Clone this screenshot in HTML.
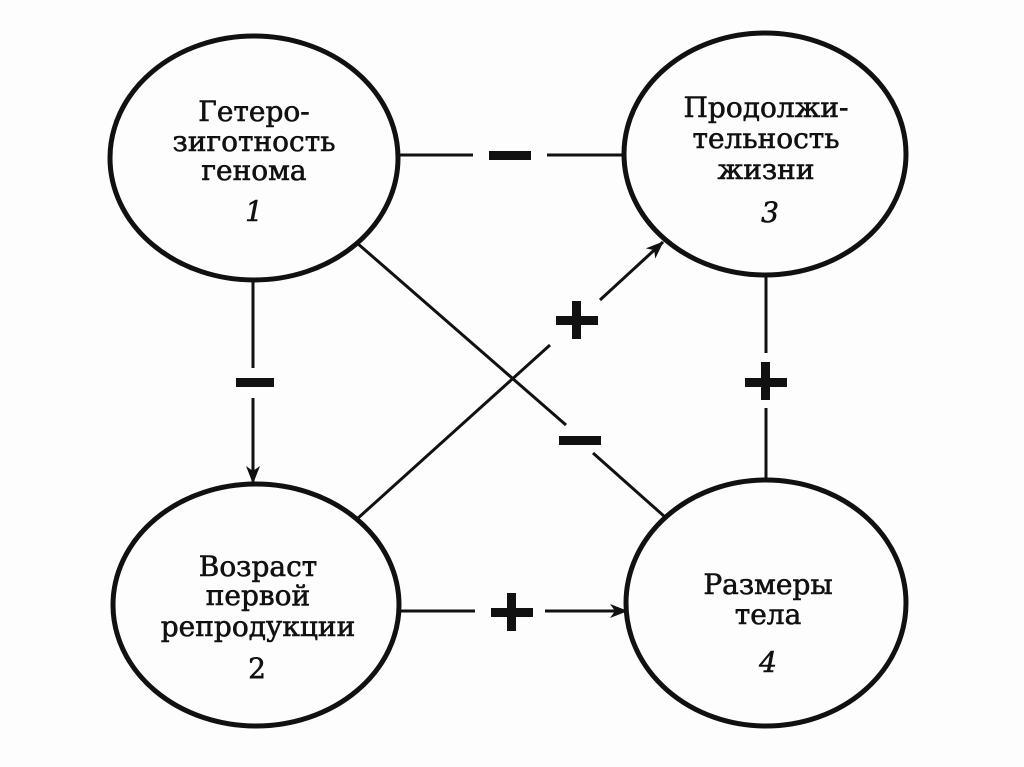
<!DOCTYPE html>
<html><head><meta charset="utf-8"><style>
html,body{margin:0;padding:0;background:#fff;}
svg{display:block;}
text{font-family:"DejaVu Serif","Liberation Serif",serif;font-size:28px;fill:#111;stroke:#111;stroke-width:0.6;text-anchor:middle;}
.n{font-style:italic;}
</style></head><body>
<svg width="1024" height="767" viewBox="0 0 1024 767">
<defs>
<marker id="b" markerWidth="18" markerHeight="18" refX="17" refY="9" orient="auto" markerUnits="userSpaceOnUse" viewBox="0 0 18 18">
<path d="M0,2 L18,9 L0,16 L5,9 Z" fill="#111"/>
</marker>
</defs>
<rect width="1024" height="767" fill="#fdfdfd"/>
<g fill="none" stroke="#111" stroke-width="5">
<ellipse cx="254" cy="158" rx="144" ry="122"/>
<ellipse cx="765" cy="154" rx="141" ry="121"/>
<ellipse cx="256" cy="605" rx="143" ry="121"/>
<ellipse cx="766" cy="603" rx="140" ry="123"/>
</g>
<g stroke="#111" stroke-width="3" fill="none">
<line x1="398" y1="155" x2="473" y2="155"/>
<line x1="547" y1="155" x2="625" y2="155"/>
<line x1="253" y1="280" x2="253" y2="368"/>
<line x1="253" y1="398" x2="253" y2="483" marker-end="url(#b)"/>
<line x1="357" y1="243" x2="566" y2="425"/>
<line x1="593" y1="453" x2="665" y2="517"/>
<line x1="357" y1="519" x2="550" y2="345"/>
<line x1="600" y1="300" x2="663" y2="242" marker-end="url(#b)"/>
<line x1="766" y1="275" x2="766" y2="353"/>
<line x1="766" y1="408" x2="766" y2="478"/>
<line x1="400" y1="611" x2="475" y2="611"/>
<line x1="545" y1="611" x2="627" y2="611" marker-end="url(#b)"/>
</g>
<g fill="#111">
<rect x="489" y="151" width="42" height="9"/>
<rect x="236" y="378" width="38" height="9"/>
<rect x="559" y="436" width="42" height="9"/>
<rect x="556" y="316" width="42" height="9"/><rect x="572" y="301" width="9" height="38"/>
<rect x="745" y="378" width="42" height="9"/><rect x="761" y="362" width="9" height="38"/>
<rect x="491" y="608" width="42" height="9"/><rect x="507" y="593" width="9" height="38"/>
</g>
<text x="254" y="121">Гетеро-</text>
<text x="254" y="151">зиготность</text>
<text x="254" y="180">генома</text>
<text x="254" y="221" class="n">1</text>
<text x="766" y="117">Продолжи-</text>
<text x="766" y="148">тельность</text>
<text x="766" y="179">жизни</text>
<text x="770" y="222" class="n">3</text>
<text x="258" y="576">Возраст</text>
<text x="258" y="605">первой</text>
<text x="258" y="636">репродукции</text>
<text x="257" y="678">2</text>
<text x="768" y="594">Размеры</text>
<text x="768" y="624">тела</text>
<text x="768" y="672" class="n">4</text>
</svg>
</body></html>
